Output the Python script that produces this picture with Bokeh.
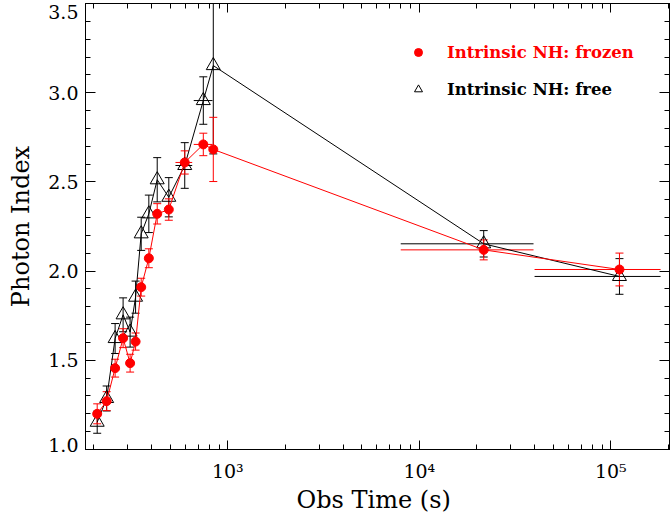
from bokeh.plotting import figure
from bokeh.models import (ColumnDataSource, Whisker, TeeHead, FixedTicker, LinearAxis,
                          LogAxis, Legend, LegendItem, Range1d)
from bokeh.embed import file_html
from bokeh.resources import INLINE

# ---------------- data ----------------
obs_time = [208, 233, 258, 284, 309, 330, 353, 387, 428, 492, 596, 745, 840, 21700, 111000]
time_lo = [208, 233, 258, 284, 309, 330, 353, 387, 428, 492, 533, 664, 840, 8000, 40000]
time_hi = [208, 233, 258, 284, 309, 330, 353, 387, 428, 492, 652, 832, 840, 39500, 182000]

index_frozen = [1.200, 1.271, 1.456, 1.624, 1.484, 1.605, 1.910, 2.072, 2.321, 2.345,
                2.609, 2.710, 2.682, 2.119, 2.009]
err_frozen = [0.056, 0.053, 0.050, 0.053, 0.050, 0.048, 0.050, 0.053, 0.057, 0.060,
              0.065, 0.063, 0.180, 0.056, 0.092]

index_free = [1.153, 1.286, 1.622, 1.755, 1.658, 1.854, 2.209, 2.321, 2.512, 2.414,
              2.592, 2.956, 3.152, 2.153, 1.970]
err_free = [0.062, 0.070, 0.084, 0.095, 0.084, 0.090, 0.093, 0.105, 0.124, 0.110,
            0.128, 0.133, 0.495, 0.074, 0.100]

x_major_ticks = [1e3, 1e4, 1e5]
x_tick_labels = ["10³", "10⁴", "10⁵"]
y_major_ticks = [1.0, 1.5, 2.0, 2.5, 3.0, 3.5]
y_tick_labels = ["1.0", "1.5", "2.0", "2.5", "3.0", "3.5"]

label_frozen = "Intrinsic NH: frozen"
label_free = "Intrinsic NH: free"
x_title = "Obs  Time (s)"
y_title = "Photon Index"

X_START, X_END = 180.7, 2.026e5
Y_START, Y_END = 1.0, 3.5

# ---------------- build ----------------
src = ColumnDataSource(dict(
    t=obs_time, t_lo=time_lo, t_hi=time_hi,
    red=index_frozen,
    red_up=[v + e for v, e in zip(index_frozen, err_frozen)],
    red_dn=[v - e for v, e in zip(index_frozen, err_frozen)],
    blk=index_free,
    blk_up=[v + e for v, e in zip(index_free, err_free)],
    blk_dn=[v - e for v, e in zip(index_free, err_free)],
))

FONT = "DejaVu Serif"

p = figure(width=670, height=516, x_axis_type="log",
           x_range=Range1d(X_START, X_END), y_range=Range1d(Y_START, Y_END),
           output_backend="svg", toolbar_location=None,
           min_border_left=85, min_border_right=1, min_border_top=3, min_border_bottom=67)
p.grid.visible = False
p.outline_line_color = "black"
p.background_fill_color = "white"
p.border_fill_color = "white"

# black series (free)
p.add_layout(Whisker(source=src, base="t", upper="blk_up", lower="blk_dn",
                     line_color="black", line_width=1,
                     upper_head=TeeHead(size=8, line_color="black", line_width=1),
                     lower_head=TeeHead(size=8, line_color="black", line_width=1)))
p.add_layout(Whisker(source=src, base="blk", upper="t_hi", lower="t_lo", dimension="width",
                     line_color="black", line_width=1, upper_head=None, lower_head=None))
p.line("t", "blk", source=src, line_color="black", line_width=1)
r_blk = p.scatter("t", "blk", source=src, marker="triangle", size=14,
                  fill_alpha=0, line_color="black", line_width=1)

# red series (frozen)
p.add_layout(Whisker(source=src, base="t", upper="red_up", lower="red_dn",
                     line_color="red", line_width=1,
                     upper_head=TeeHead(size=8, line_color="red", line_width=1),
                     lower_head=TeeHead(size=8, line_color="red", line_width=1)))
p.add_layout(Whisker(source=src, base="red", upper="t_hi", lower="t_lo", dimension="width",
                     line_color="red", line_width=1, upper_head=None, lower_head=None))
p.line("t", "red", source=src, line_color="red", line_width=1)
r_red = p.scatter("t", "red", source=src, marker="circle", size=9,
                  fill_color="red", line_color="red")

# ---------------- axes ----------------
x_minor = [m * 10 ** e for e in (2, 3, 4, 5) for m in range(1, 10)]
x_ticker = FixedTicker(ticks=x_major_ticks, minor_ticks=x_minor)
y_minor = [round(1.0 + 0.1 * i, 1) for i in range(26)]
y_ticker = FixedTicker(ticks=y_major_ticks, minor_ticks=y_minor)

def style_axis(ax, major_len, minor_len):
    ax.major_tick_in = major_len
    ax.major_tick_out = 0
    ax.minor_tick_in = minor_len
    ax.minor_tick_out = 0
    ax.axis_line_color = "black"
    ax.major_tick_line_color = "black"
    ax.minor_tick_line_color = "black"
    ax.major_label_text_font = FONT
    ax.major_label_text_color = "black"
    ax.axis_label_text_font = FONT
    ax.axis_label_text_font_style = "normal"
    ax.axis_label_text_color = "black"

xa = p.xaxis[0]
xa.ticker = x_ticker
xa.major_label_overrides = {t: l for t, l in zip(x_major_ticks, x_tick_labels)}
style_axis(xa, 9, 5)
xa.major_label_text_font_size = "19px"
xa.major_label_standoff = 10
xa.axis_label = x_title
xa.axis_label_text_font_size = "24px"
xa.axis_label_standoff = 1

# left axis 1: frame line + ticks only
ya = p.yaxis[0]
ya.ticker = y_ticker
style_axis(ya, 10, 5)
ya.major_label_text_font_size = "1px"
ya.major_label_text_color = None
ya.major_label_standoff = 0

# left axis 2: tick labels (end labels nudged inward, as in the reference) + title
nudge_px = {3.5: -8, 1.0: 5}
px_per_unit = 446 / (Y_END - Y_START)
label_pos = [t + nudge_px.get(t, 0) / px_per_unit for t in y_major_ticks]
ylab = LinearAxis(ticker=FixedTicker(ticks=label_pos, minor_ticks=[]))
style_axis(ylab, 0, 0)
ylab.axis_line_color = None
ylab.major_tick_line_color = None
ylab.minor_tick_line_color = None
ylab.major_label_overrides = {t: l for t, l in zip(label_pos, y_tick_labels)}
ylab.major_label_text_font_size = "19px"
ylab.major_label_standoff = 7
ylab.axis_label = y_title
ylab.axis_label_text_font_size = "24px"
ylab.axis_label_standoff = 10
p.add_layout(ylab, "left")

top = LogAxis(ticker=x_ticker)
style_axis(top, 9, 5)
top.major_label_text_font_size = "1px"
top.major_label_text_color = None
top.major_label_standoff = 0
p.add_layout(top, "above")
right = LinearAxis(ticker=y_ticker)
style_axis(right, 10, 5)
right.major_label_text_font_size = "1px"
right.major_label_text_color = None
right.major_label_standoff = 0
p.add_layout(right, "right")

# ---------------- legend ----------------
def make_legend(label, renderer, color, loc):
    return Legend(items=[LegendItem(label=label, renderers=[renderer])], location=loc,
                  label_text_color=color, label_text_font=FONT, label_text_font_size="16.5px",
                  label_text_font_style="bold",
                  border_line_color=None, background_fill_alpha=0, padding=0, margin=0,
                  glyph_width=20, glyph_height=22, label_height=22, label_standoff=19, spacing=0)

p.add_layout(make_legend(label_frozen, r_red, "red", (323, 386)))
p.add_layout(make_legend(label_free, r_blk, "black", (323, 349)))

open("out.html", "w").write(file_html(p, INLINE))
